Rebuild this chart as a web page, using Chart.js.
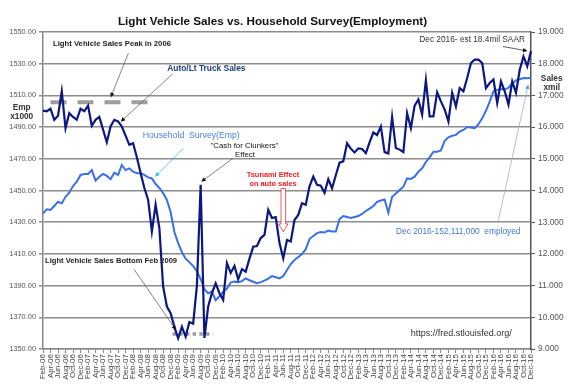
<!DOCTYPE html>
<html>
<head>
<meta charset="utf-8">
<title>Light Vehicle Sales vs. Household Survey</title>
<script src="https://cdn.jsdelivr.net/npm/chart.js@4.4.1/dist/chart.umd.min.js"></script>
<style>
  html, body { margin: 0; padding: 0; background: #fff; }
</style>
</head>
<body>
<canvas id="salesChart" width="576" height="384"></canvas>
<script>
// Months Feb-06 .. Dec-16 (one point per month)
const monthNames = ['Jan','Feb','Mar','Apr','May','Jun','Jul','Aug','Sep','Oct','Nov','Dec'];
const years = ['06','07','08','09','10','11','12','13','14','15','16'];
const monthLabels = [];
years.forEach(yr => monthNames.forEach(m => monthLabels.push(m + '-' + yr)));
monthLabels.shift(); // chart starts in Feb-06

// Auto/Lt truck sales, millions SAAR (right axis)
const vehicleSales = [
  16.52, 16.50, 16.58, 16.23, 16.36, 17.13, 15.97, 16.44, 16.32, 16.23, 16.58,        // 2006
  16.50, 16.68, 16.04, 16.23, 16.32, 15.92, 15.52, 16.02, 16.23, 16.18, 16.02, 15.73, // 2007
  15.44, 15.49, 15.05, 14.55, 14.08, 13.71, 12.71, 13.55, 12.81, 10.97, 10.34, 10.13, // 2008
  9.70, 9.34, 9.70, 9.39, 9.85, 9.80, 11.00, 14.18, 9.35, 10.34, 10.76, 11.07,        // 2009
  10.76, 10.55, 11.71, 11.40, 11.62, 11.20, 11.52, 11.44, 11.85, 12.23, 12.25, 12.50, // 2010
  12.60, 13.39, 13.13, 13.16, 12.34, 11.86, 12.44, 12.39, 13.07, 13.23, 13.60, 13.55, // 2011
  14.13, 14.44, 14.18, 14.15, 13.93, 14.36, 14.07, 14.48, 14.88, 14.92, 15.49, 15.32, // 2012
  15.20, 15.33, 15.31, 15.18, 15.52, 15.83, 15.75, 16.02, 15.21, 15.17, 16.32, 15.34, // 2013
  15.29, 15.21, 16.44, 15.97, 16.68, 16.87, 16.39, 17.48, 16.34, 16.34, 17.10, 16.81, // 2014
  16.55, 16.18, 17.08, 16.65, 17.23, 17.13, 17.55, 18.02, 18.13, 18.13, 18.02, 17.23, // 2015
  17.39, 17.50, 16.76, 17.44, 17.13, 16.71, 17.44, 17.08, 17.81, 18.23, 17.92, 18.40  // 2016
];

// Household survey employment, thousands (left axis)
const householdEmp = [
  143560, 143810, 143770, 144020, 144290, 144190, 144600, 144860, 145280, 145550, 145980,         // 2006
  146040, 146040, 146290, 145620, 145870, 146040, 145920, 145710, 146120, 145980, 146610, 146290, // 2007
  146400, 146190, 146090, 146090, 145980, 145830, 145760, 145410, 145160, 144840, 144400, 143640, // 2008
  142380, 141680, 141110, 140700, 140480, 140230, 139910, 139400, 138780, 138520, 138620, 138080, // 2009
  138330, 138620, 138810, 139190, 139250, 139220, 139280, 139450, 139340, 139240, 139150, 139220, // 2010
  139310, 139440, 139600, 139530, 139450, 139600, 139980, 140360, 140610, 140800, 140990, 141300, // 2011
  141940, 142130, 142310, 142380, 142350, 142470, 142410, 142410, 143200, 143390, 143330, 143260, // 2012
  143330, 143390, 143520, 143710, 143860, 144020, 144290, 144370, 144430, 143600, 144610, 144810, // 2013
  145030, 145240, 145760, 145730, 145870, 146190, 146400, 146800, 147090, 147450, 147450, 147530, // 2014
  148130, 148360, 148450, 148510, 148720, 148820, 149010, 148980, 148930, 149180, 149550, 150030, // 2015
  150610, 151260, 151350, 151400, 151370, 151480, 151730, 151950, 152020, 152090, 152080, 152111  // 2016
];

// reference markers (month index, sales level)
const peakMark = { from: 2, to: 28, level: 16.78 };     // 2006 peak dashes
const bottomMark = { from: 34.5, to: 45.3, level: 9.47 }; // Feb 2009 bottom dots

const FONT = '"Liberation Sans", Arial, sans-serif';

function arrow(ctx, x1, y1, x2, y2, lineColor, headColor, size) {
  const a = Math.atan2(y2 - y1, x2 - x1);
  ctx.strokeStyle = lineColor;
  ctx.lineWidth = 0.8;
  ctx.beginPath();
  ctx.moveTo(x1, y1);
  ctx.lineTo(x2 - Math.cos(a) * size * 0.7, y2 - Math.sin(a) * size * 0.7);
  ctx.stroke();
  ctx.fillStyle = headColor;
  ctx.beginPath();
  ctx.moveTo(x2, y2);
  ctx.lineTo(x2 - size * Math.cos(a - 0.45), y2 - size * Math.sin(a - 0.45));
  ctx.lineTo(x2 - size * Math.cos(a + 0.45), y2 - size * Math.sin(a + 0.45));
  ctx.closePath();
  ctx.fill();
}

function text(ctx, str, x, y, font, color, align) {
  ctx.font = font;
  ctx.fillStyle = color;
  ctx.textAlign = align || 'left';
  ctx.textBaseline = 'middle';
  ctx.fillText(str, x, y);
}

const notesPlugin = {
  id: 'notes',
  beforeDatasetsDraw(chart) {
    const { ctx, scales: { x, y1 } } = chart;
    ctx.save();
    ctx.strokeStyle = '#9d9d9d';
    ctx.lineWidth = 4;
    ctx.setLineDash([16, 11]);
    ctx.beginPath();
    ctx.moveTo(x.getPixelForValue(peakMark.from), y1.getPixelForValue(peakMark.level));
    ctx.lineTo(x.getPixelForValue(peakMark.to), y1.getPixelForValue(peakMark.level));
    ctx.stroke();
    ctx.lineWidth = 3.5;
    ctx.setLineDash([3.5, 3.2]);
    ctx.beginPath();
    ctx.moveTo(x.getPixelForValue(bottomMark.from), y1.getPixelForValue(bottomMark.level));
    ctx.lineTo(x.getPixelForValue(bottomMark.to), y1.getPixelForValue(bottomMark.level));
    ctx.stroke();
    ctx.restore();
  },
  afterDatasetsDraw(chart) {
    const { ctx } = chart;
    ctx.save();
    // title
    text(ctx, 'Light Vehicle Sales vs. Household Survey(Employment)', 272.5, 21.5, 'bold 11.7px ' + FONT, '#111', 'center');

    // axis units
    text(ctx, 'Emp', 21.7, 107.3, 'bold 8.3px ' + FONT, '#333', 'center');
    text(ctx, 'x1000', 21.7, 116.7, 'bold 8.3px ' + FONT, '#333', 'center');
    text(ctx, 'Sales', 551.7, 79, 'bold 8.3px ' + FONT, '#333', 'center');
    text(ctx, 'xmil', 551.7, 87.5, 'bold 8.3px ' + FONT, '#333', 'center');

    // 2006 peak
    text(ctx, 'Light Vehicle Sales Peak in 2006', 53, 44.3, 'bold 7.7px ' + FONT, '#222');
    arrow(ctx, 128.3, 53.3, 110.7, 97.3, '#666', '#111', 5);

    // sales label
    text(ctx, 'Auto/Lt Truck Sales', 167.3, 68.5, 'bold 8.4px ' + FONT, '#1f3d7a');
    arrow(ctx, 172.5, 74, 120.7, 121.7, '#666', '#111', 5);

    // household label
    text(ctx, 'Household  Survey(Emp)', 142.7, 135.7, '8.7px ' + FONT, '#4a7fe0');
    arrow(ctx, 183.3, 148.3, 155, 176.7, '#3cb4e6', '#3cb4e6', 5);

    // cash for clunkers
    text(ctx, '"Cash for Clunkers"', 244.5, 146, '7.8px ' + FONT, '#111', 'center');
    text(ctx, 'Effect', 245, 154.7, '7.8px ' + FONT, '#111', 'center');
    arrow(ctx, 233, 158.3, 201.3, 181.7, '#666', '#111', 5);

    // tsunami
    text(ctx, 'Tsunami Effect', 273, 175, 'bold 7.4px ' + FONT, '#ee1c1c', 'center');
    text(ctx, 'on auto sales', 273, 184, 'bold 7.4px ' + FONT, '#ee1c1c', 'center');
    ctx.strokeStyle = '#ee3030';
    ctx.fillStyle = '#fff';
    ctx.lineWidth = 0.8;
    ctx.beginPath();
    ctx.moveTo(281, 188.5);
    ctx.lineTo(285.6, 188.5);
    ctx.lineTo(285.6, 224);
    ctx.lineTo(288, 224);
    ctx.lineTo(283.3, 231.7);
    ctx.lineTo(278.6, 224);
    ctx.lineTo(281, 224);
    ctx.closePath();
    ctx.fill();
    ctx.stroke();

    // 2009 bottom
    text(ctx, 'Light Vehicle Sales Bottom Feb 2009', 45, 261, 'bold 7.6px ' + FONT, '#222');
    arrow(ctx, 134, 269.3, 176, 330, '#666', '#111', 5);

    // end of series notes
    text(ctx, 'Dec 2016- est 18.4mil SAAR', 419.3, 40, '8.3px ' + FONT, '#333');
    arrow(ctx, 503, 46.5, 527.5, 51, '#333', '#111', 5);
    text(ctx, 'Dec 2016-152,111,000  employed', 396, 231.7, '8.35px ' + FONT, '#3d7cc9');
    arrow(ctx, 498.3, 220.7, 528.3, 84.5, '#8ab4e0', '#5b9bd5', 5);

    text(ctx, 'https://fred.stlouisfed.org/', 410.7, 333.3, '9px ' + FONT, '#333');
    ctx.restore();
  }
};

const ctx = document.getElementById('salesChart').getContext('2d');
const salesChart = new Chart(ctx, {
  type: 'line',
  data: {
    labels: monthLabels,
    datasets: [{
      label: 'Auto/Lt Truck Sales',
      data: vehicleSales,
      yAxisID: 'y1',
      borderColor: '#0d1780',
      borderWidth: 2.2,
      pointRadius: 0,
      tension: 0
    }, {
      label: 'Household Survey(Emp)',
      data: householdEmp,
      yAxisID: 'y',
      borderColor: '#3b6fe6',
      borderWidth: 2,
      pointRadius: 0,
      tension: 0
    }]
  },
  options: {
    responsive: false,
    animation: false,
    layout: { padding: { top: 32, left: 0, right: 0, bottom: 0 } },
    plugins: {
      legend: { display: false },
      title: { display: false },
      tooltip: { enabled: false }
    },
    scales: {
      x: {
        offset: false,
        grid: { drawOnChartArea: false, drawTicks: true, tickLength: 4, color: '#888' },
        border: { color: '#888', width: 1.5 },
        ticks: {
          autoSkip: false,
          minRotation: 90,
          maxRotation: 90,
          padding: 1,
          color: '#444',
          font: { family: FONT, size: 8 },
          callback: (v, i) => (i % 2 === 0 ? monthLabels[i] : null)
        },
        afterFit: s => { s.height = 35; }
      },
      y: {
        position: 'left',
        min: 135000,
        max: 155000,
        grid: { color: '#8c8c8c', lineWidth: 1.5, tickLength: 4 },
        border: { color: '#888', width: 1.5 },
        ticks: {
          stepSize: 2000,
          padding: 3,
          color: '#555',
          font: { family: FONT, size: 7.4 },
          callback: v => (v / 100).toFixed(2)
        },
        afterFit: s => { s.width = 43; }
      },
      y1: {
        position: 'right',
        min: 9,
        max: 19,
        grid: { drawOnChartArea: false, tickLength: 4, color: '#555' },
        border: { color: '#555', width: 1.5 },
        ticks: {
          stepSize: 1,
          padding: 3,
          color: '#555',
          font: { family: FONT, size: 8.4 },
          callback: v => v.toFixed(3)
        },
        afterFit: s => { s.width = 45; }
      }
    }
  },
  plugins: [notesPlugin]
});
</script>
</body>
</html>
